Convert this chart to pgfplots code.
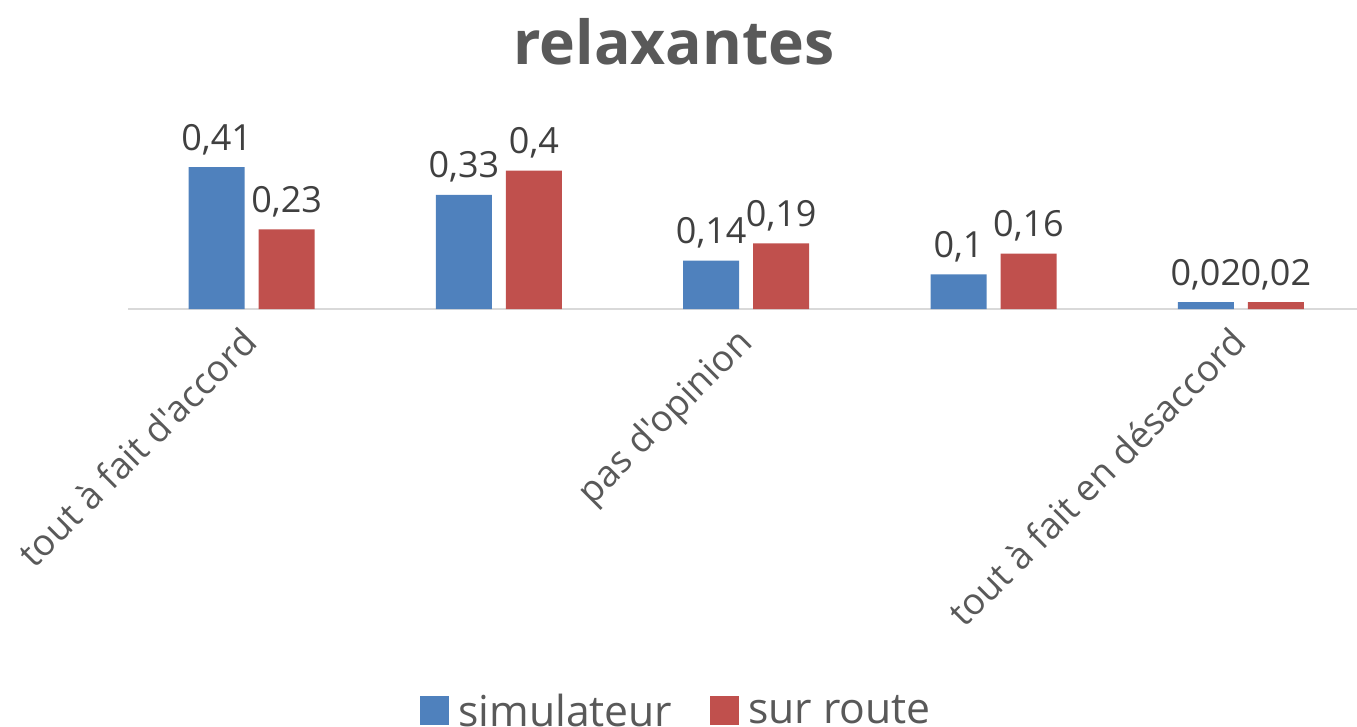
\documentclass[border=0pt]{standalone}
\usepackage{pgfplots}
\pgfplotsset{compat=1.18}
\usepackage{fontspec}
\setmainfont{Open Sans}[Ligatures=TeXOff]
\definecolor{cblue}{HTML}{4F81BD}
\definecolor{cred}{HTML}{C0504D}
\definecolor{ctext}{HTML}{595959}
\definecolor{clab}{HTML}{404040}
\definecolor{caxis}{HTML}{D9D9D9}
\begin{document}
\begin{tikzpicture}
\path[use as bounding box] (0,0) rectangle (1017.75pt,544.5pt);
\begin{axis}[
  at={(96pt,312.75pt)}, anchor=south west,
  scale only axis, width=921.75pt, height=129.75pt,
  xmin=-0.5, xmax=4.47, ymin=0, ymax=0.5,
  ybar, bar width=42pt,
  axis y line=none,
  axis x line*=bottom,
  x axis line style={-, draw=caxis, line width=1.5pt},
  xtick={0,2,4},
  xticklabels={tout à fait d'accord, pas d'opinion, tout à fait en désaccord},
  major tick length=0pt,
  xticklabel style={xshift=-9pt, yshift=-6pt, rotate=45, anchor=north east, font=\fontsize{27.5}{32}\selectfont, text=ctext, inner sep=4pt},
  nodes near coords={\pgfmathprintnumber[use comma, fixed, precision=2]{\pgfplotspointmeta}},
  nodes near coords style={font=\fontsize{27}{32}\selectfont, text=clab, anchor=south, inner sep=9pt},
  /pgf/number format/assume math mode=true,
  legend style={at={(0.4491,-2.323)}, anchor=center, draw=none, legend columns=2,
    font=\fontsize{32}{36}\selectfont, text=ctext, column sep=0pt,
    nodes={inner xsep=7pt},
    /tikz/every even column/.append style={column sep=21pt}},
  legend image code/.code={\fill[#1] (0pt,-10.9pt) rectangle (21.75pt,10.9pt);},
]
\addplot[fill=cblue, draw=none, bar shift=-26.25pt] coordinates {(0,0.41) (1,0.33) (2,0.14) (3,0.1) (4,0.02)};
\addplot[fill=cred, draw=none, bar shift=26.25pt] coordinates {(0,0.23) (1,0.4) (2,0.19) (3,0.16) (4,0.02)};
\legend{simulateur, sur route}
\end{axis}
\node[font=\bfseries\fontsize{45.5}{54}\selectfont, text=ctext, anchor=base] at (505.5pt,495.75pt) {relaxantes};
\end{tikzpicture}
\end{document}
